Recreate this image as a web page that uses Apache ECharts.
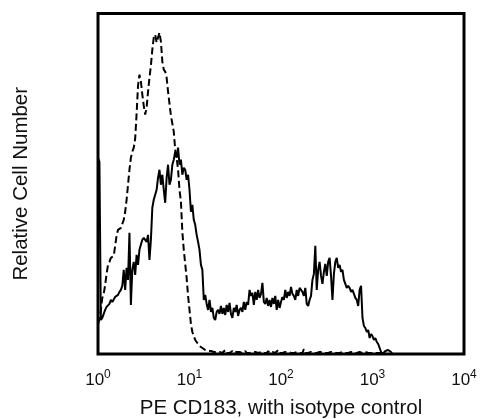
<!DOCTYPE html>
<html><head><meta charset="utf-8">
<script src="https://cdn.jsdelivr.net/npm/echarts@6/dist/echarts.min.js"></script>
<style>html,body{margin:0;padding:0;background:#fff}#c{width:482px;height:419px}</style>
</head><body><div id="c"></div>
<script>
const channelsPerDecade = 64;
const tickExponents = ['0','1','2','3','4'];
const xTitle = 'PE CD183, with isotype control';
const yTitle = 'Relative Cell Number';

// PE CD183 stained cells (solid line), one value per channel
const cd183Counts = [
196,192,34,36,40,44,47,48,50,54,52,53,57,56,59,62,
64,68,84,64,86,74,121,49,84,92,79,99,89,104,109,114,
116,116,112,119,94,114,146,154,159,164,176,184,169,179,164,151,
176,189,169,174,189,194,202,196,206,189,194,179,186,184,174,179,
164,142,149,134,129,119,112,104,89,84,54,59,50,44,54,42,
46,36,34,42,44,40,48,40,46,39,49,42,51,40,36,46,
42,49,38,44,46,42,52,44,52,49,64,58,61,49,62,54,
64,56,60,71,52,50,56,48,54,47,56,50,58,44,54,46,
52,57,54,64,56,62,58,67,60,58,54,64,58,66,64,62,
58,66,50,48,54,58,74,80,108,64,84,92,78,70,82,90,
78,92,96,78,54,80,92,96,86,89,82,84,74,70,66,68,
66,62,64,60,56,54,48,64,68,36,28,26,22,24,16,20,
18,14,16,12,10,6,2,0,1,3,4,4,3,2,0,0
];

// isotype control (dashed line), one value per channel
const isotypeCounts = [
30,34,44,56,60,69,80,89,92,96,96,98,108,118,124,125,
126,130,134,142,154,169,184,196,202,206,215,240,268,279,272,259,
248,239,246,262,276,288,304,316,319,311,316,321,312,292,284,282,
276,262,250,238,230,222,204,196,184,164,152,122,104,90,76,58,
44,30,22,18,14,12,10,8,7,6,5,4,4,3,3,3,
2,2,1,2,3,2,1,1,2,4,1,2,1,2,3,1,
1,2,1,2,2,1,1,3,1,2,1,1,2,1,2,1,
1,2,2,1,1,2,1,3,1,1,2,1,1,2,4,1,
2,1,1,2,1,2,1,1,2,1,1,2,1,1,2,1,
5,1,2,1,1,2,1,1,2,1,1,2,1,2,1,1,
2,1,1,2,1,1,2,1,2,1,1,2,1,1,2,1,
1,2,1,1,2,1,1,2,1,1,1,2,1,1,2,1,
1,1,2,1,1,1,0,0,0,0
];

function toPairs(counts) {
  return counts.map((c, i) => [Math.pow(10, i / channelsPerDecade), c]);
}

const FONT = "'Liberation Sans', Arial, sans-serif";
const chart = echarts.init(document.getElementById('c'), null, {renderer: 'canvas'});
chart.setOption({
  animation: false,
  backgroundColor: '#fff',
  grid: {left: 98, right: 18, top: 13.5, bottom: 65, outerBoundsMode: 'none', containLabel: false,
         show: true, borderColor: '#000', borderWidth: 3, backgroundColor: 'transparent'},
  xAxis: {
    type: 'log', logBase: 10, min: 1, max: 10000,
    axisLine: {show: false}, axisTick: {show: false}, splitLine: {show: false},
    axisLabel: {
      show: true, showMinLabel: true, showMaxLabel: true, margin: 15,
      color: '#111', fontFamily: FONT, fontSize: 17, lineHeight: 22,
      formatter: function (v) {
        const e = Math.round(Math.log10(v));
        return '10{s|' + tickExponents[e] + '}';
      },
      rich: {s: {fontSize: 12, lineHeight: 12, verticalAlign: 'top', color: '#111', fontFamily: FONT}}
    },
    name: xTitle, nameLocation: 'middle', nameGap: 44,
    nameTextStyle: {color: '#111', fontFamily: FONT, fontSize: 20.5}
  },
  yAxis: {
    type: 'value', min: 0, max: 340,
    axisLine: {show: false}, axisTick: {show: false}, splitLine: {show: false}, axisLabel: {show: false},
    name: yTitle, nameLocation: 'middle', nameGap: 66,
    nameTextStyle: {color: '#111', fontFamily: FONT, fontSize: 20.5}
  },
  series: [
    {type: 'line', name: 'CD183', data: toPairs(cd183Counts), symbol: 'none', showSymbol: false,
     lineStyle: {color: '#000', width: 2}, z: 3},
    {type: 'line', name: 'Isotype', data: toPairs(isotypeCounts), symbol: 'none', showSymbol: false,
     lineStyle: {color: '#000', width: 2, type: [7, 3.5]}, z: 2}
  ]
});
</script>
</body></html>
